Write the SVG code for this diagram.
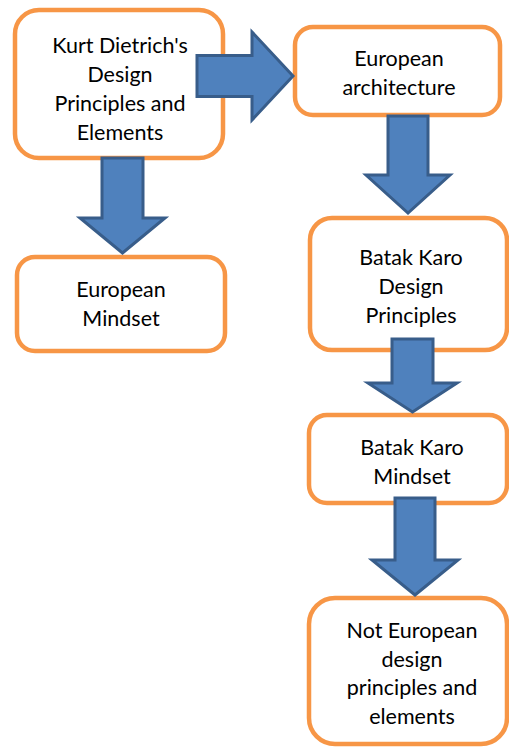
<svg xmlns="http://www.w3.org/2000/svg" width="509" height="747" viewBox="0 0 509 747">
<style>
.box{fill:#ffffff;stroke:#F79646;stroke-width:4.5}
.arr{fill:#4F81BD;stroke:#385D8A;stroke-width:3;stroke-linejoin:miter}
text{font-family:Lato,"Open Sans","Liberation Sans",sans-serif;font-size:21.5px;fill:#000;text-anchor:middle}
</style>
<rect width="509" height="747" fill="#ffffff"/>
<g id="n1"><rect class="box" x="15" y="10" width="208" height="148" rx="24"/>
<text x="120" y="53">Kurt Dietrich's</text><text x="120" y="82">Design</text><text x="120" y="111">Principles and</text><text x="120" y="140">Elements</text></g>
<g id="n2"><rect class="box" x="295" y="27" width="205" height="88" rx="18"/>
<text x="399" y="66">European</text><text x="399" y="95">architecture</text></g>
<g id="n3"><rect class="box" x="310" y="218" width="197" height="132" rx="22"/>
<text x="411" y="265">Batak Karo</text><text x="411" y="294">Design</text><text x="411" y="323">Principles</text></g>
<g id="n4"><rect class="box" x="309" y="415" width="198" height="88" rx="18"/>
<text x="412" y="455">Batak Karo</text><text x="412" y="484">Mindset</text></g>
<g id="n5"><rect class="box" x="309" y="598" width="198" height="146" rx="26"/>
<text x="412" y="638">Not European</text><text x="412" y="667">design</text><text x="412" y="695">principles and</text><text x="412" y="724">elements</text></g>
<g id="n6"><rect class="box" x="17" y="257" width="208" height="94" rx="18"/>
<text x="121" y="297">European</text><text x="121" y="326">Mindset</text></g>
<g id="connectors">
<polygon class="arr" points="197,55.5 252,55.5 252,32 293,76 252,120 252,96.5 197,96.5"/>
<polygon class="arr" points="102,158 143,158 143,218 165,218 122.5,253 80,218 102,218"/>
<polygon class="arr" points="388,116 428,116 428,175 450,175 408,213 366,175 388,175"/>
<polygon class="arr" points="392,339 433,339 433,383 457,383 412.5,412 368,383 392,383"/>
<polygon class="arr" points="395,498 435,498 435,560 458,560 415,595 372,560 395,560"/>
</g>
</svg>
